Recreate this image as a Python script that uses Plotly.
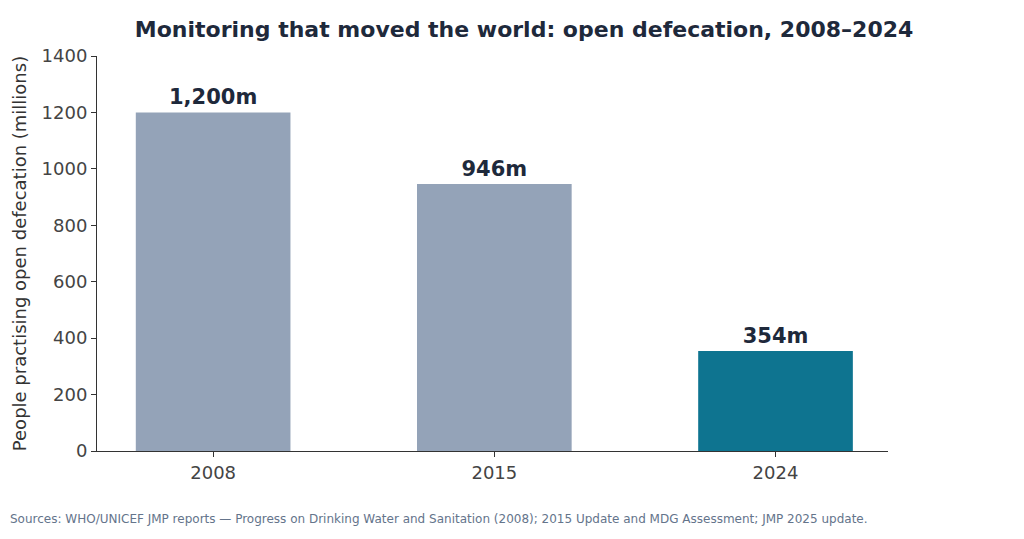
import plotly.graph_objects as go

years = ["2008", "2015", "2024"]
people_millions = [1200, 946, 354]
value_labels = ["<b>1,200m</b>", "<b>946m</b>", "<b>354m</b>"]
bar_colors = ["#94A3B8", "#94A3B8", "#0E7490"]

FONT = "DejaVu Sans"

fig = go.Figure()
fig.add_trace(go.Bar(
    x=[0, 1, 2], y=people_millions, width=0.55,
    marker=dict(color=bar_colors, line=dict(width=0)),
    text=value_labels, textposition="outside",
    textfont=dict(family=FONT, size=21, color="#1E293B"),
    cliponaxis=False,
))

fig.update_layout(
    width=1024, height=539,
    margin=dict(l=89, r=144, t=48, b=96),
    plot_bgcolor="white", paper_bgcolor="white",
    font=dict(family=FONT, color="#333333"),
    showlegend=False,
    title=dict(
        text="<b>Monitoring that moved the world: open defecation, 2008\u20132024</b>",
        x=0.504, xanchor="center", y=0.96, yanchor="middle",
        font=dict(family=FONT, size=22, color="#1E293B"),
    ),
    xaxis=dict(
        tickvals=[0, 1, 2], ticktext=years, range=[-0.413, 2.4],
        showline=True, linecolor="#333333", linewidth=1,
        ticks="outside", ticklen=5, tickcolor="#333333",
        showgrid=False, zeroline=False,
        tickfont=dict(family=FONT, size=18, color="#444444"),
    ),
    yaxis=dict(
        range=[0, 1400], dtick=200,
        showline=True, linecolor="#333333", linewidth=1,
        ticks="outside", ticklen=5, tickcolor="#333333",
        showgrid=False, zeroline=False,
        tickfont=dict(family=FONT, size=18, color="#444444"),
        title=dict(text="People practising open defecation (millions)",
                   font=dict(family=FONT, size=18, color="#333333"), standoff=10),
    ),
    annotations=[dict(
        text="Sources: WHO/UNICEF JMP reports \u2014 Progress on Drinking Water and Sanitation (2008); 2015 Update and MDG Assessment; JMP 2025 update.",
        xref="paper", yref="paper", x=-89 / 791, y=-0.172, xanchor="left", yanchor="middle",
        showarrow=False, font=dict(family=FONT, size=12, color="#64748B"),
    )],
)

fig.write_html("out.html")
